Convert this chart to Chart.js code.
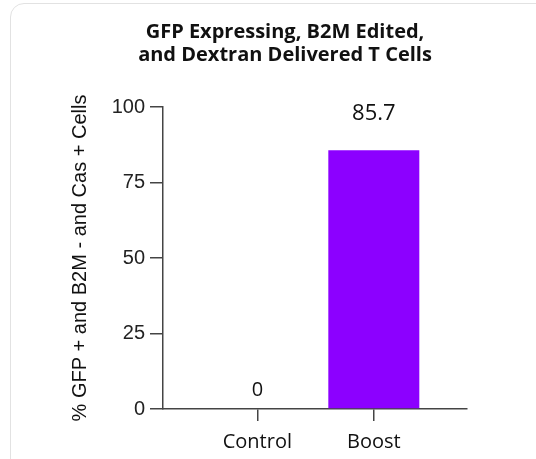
<!DOCTYPE html>
<html>
<head>
<meta charset="utf-8">
<script src="https://cdn.jsdelivr.net/npm/chart.js@4/dist/chart.umd.min.js"></script>
<style>
  html, body { margin: 0; padding: 0; background: #fff; }
  body { width: 536px; height: 459px; position: relative; overflow: hidden; }
  #card {
    position: absolute; left: 10px; top: 3px; width: 600px; height: 520px;
    border: 1.5px solid #e2e2e2; border-radius: 14px; box-sizing: border-box;
  }
  #chartCanvas { position: absolute; left: 0; top: 0; }
</style>
</head>
<body>
<div id="card"></div>
<canvas id="chartCanvas" width="536" height="459"></canvas>
<script>
const categories = ['Control', 'Boost'];
const values = [0, 85.7];
const valueLabels = ['0', '85.7'];
const yTicks = [0, 25, 50, 75, 100];

// label offsets above bar top, in px
const labelOffsets = [19, 36];

const valueLabelPlugin = {
    id: 'valueLabels',
    afterDatasetsDraw(chart) {
        const ctx = chart.ctx;
        const x = chart.scales.x;
        const y = chart.scales.y;
        ctx.save();
        ctx.fillStyle = '#111';
        ctx.textAlign = 'center';
        ctx.textBaseline = 'middle';
        values.forEach((v, i) => {
            ctx.font = (i === 0 ? '20px' : '22px') + ' "Open Sans"';
            ctx.fillText(valueLabels[i], x.getPixelForValue(i), y.getPixelForValue(v) - labelOffsets[i]);
        });
        ctx.restore();
    }
};

const ctx = document.getElementById('chartCanvas').getContext('2d');
new Chart(ctx, {
    type: 'bar',
    data: {
        datasets: [{
            data: values.map((v, i) => ({ x: i, y: v })),
            backgroundColor: '#8c00ff',
            barThickness: 91,
            inflateAmount: 0, // no hairline for the zero bar
        }]
    },
    options: {
        responsive: false,
        animation: false,
        layout: { padding: { left: 34, right: 0, top: 0, bottom: 0 } },
        plugins: {
            legend: { display: false },
            tooltip: { enabled: false },
            title: {
                display: true,
                text: ['GFP Expressing, B2M Edited,', 'and Dextran Delivered T Cells'],
                font: { family: 'Open Sans', size: 20, weight: 'bold', lineHeight: 1.15 },
                color: '#111',
                padding: { top: 21, bottom: 40 }
            }
        },
        scales: {
            x: {
                type: 'linear',
                offset: false,
                min: -0.81,
                max: 1.8,
                afterBuildTicks: s => { s.ticks = categories.map((c, i) => ({ value: i })); },
                ticks: {
                    callback: v => categories[v],
                    font: { family: 'Open Sans', size: 20 },
                    color: '#111',
                    padding: 9
                },
                grid: { offset: false, drawOnChartArea: false, drawTicks: true, tickLength: 12, color: '#444', lineWidth: 1.5 },
                border: { color: '#444', width: 1.5 },
                afterFit: s => { s.height = 50; }
            },
            y: {
                min: 0,
                max: 100,
                afterBuildTicks: s => { s.ticks = yTicks.map(v => ({ value: v })); },
                ticks: {
                    font: { family: 'Liberation Sans', size: 20 },
                    color: '#222',
                    padding: 5
                },
                grid: { drawOnChartArea: false, drawTicks: true, tickLength: 13, color: '#444', lineWidth: 1.5 },
                border: { color: '#444', width: 1.5 },
                title: {
                    display: true,
                    text: '% GFP + and B2M - and Cas + Cells',
                    font: { family: 'Liberation Sans', size: 20 },
                    color: '#111',
                    padding: { top: 34, bottom: 0 }
                },
                afterFit: s => { s.width = 129; }
            },
            yR: {
                position: 'right',
                display: true,
                ticks: { display: false },
                grid: { display: false, drawTicks: false },
                border: { display: false },
                afterFit: s => { s.width = 69; }
            }
        }
    },
    plugins: [valueLabelPlugin]
});
</script>
</body>
</html>
